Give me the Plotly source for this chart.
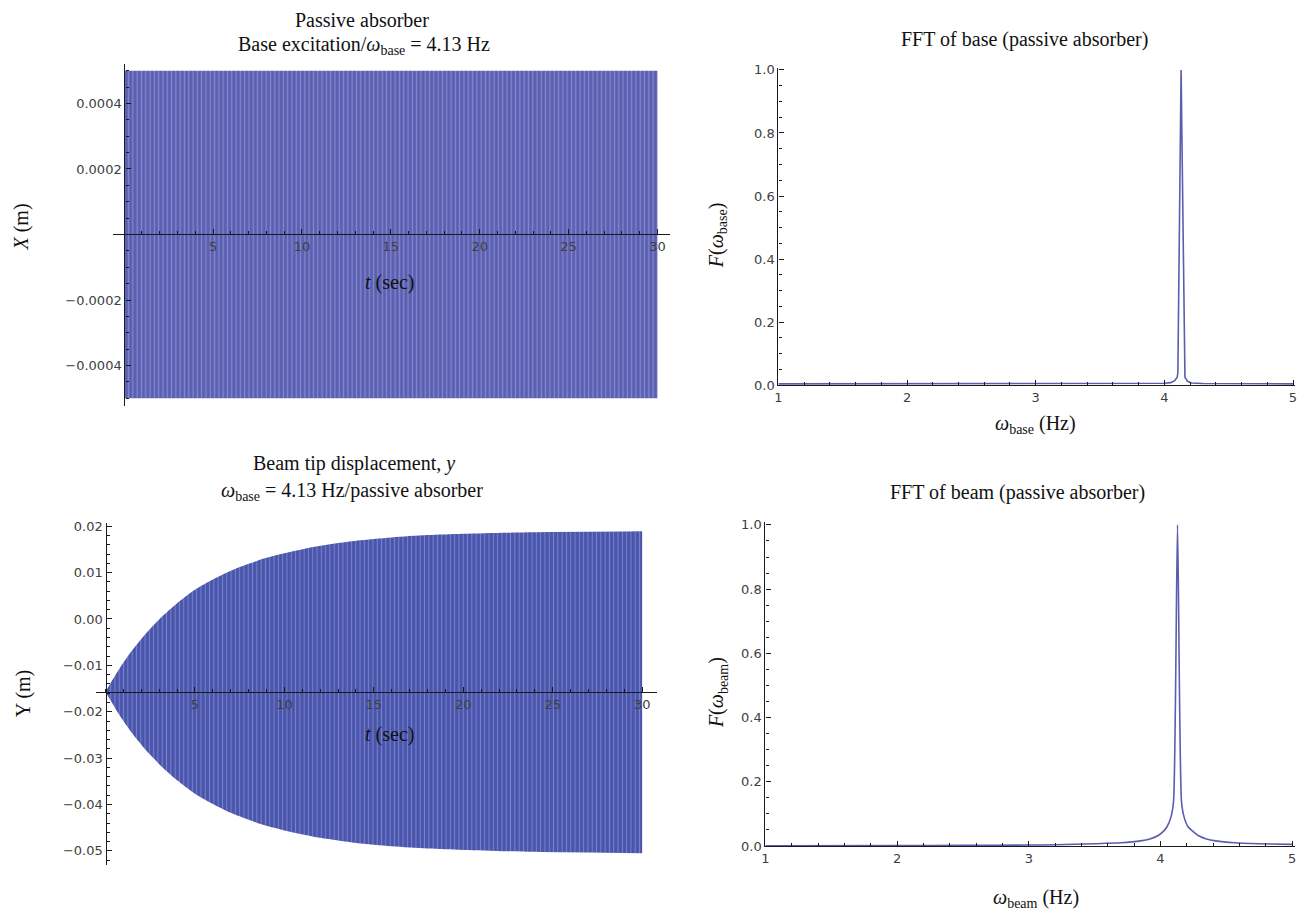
import plotly.graph_objects as go

W, H = 1311, 921

# ---------------- data ----------------
# Top-left: base excitation, envelope of the 4.13 Hz oscillation
base_t = [0.0, 30.0]
base_upper = [0.0005, 0.0005]
base_lower = [-0.0005, -0.0005]

# Bottom-left: beam tip displacement envelope
beam_t = [0.0, 0.3, 0.6, 1.0, 1.5, 2.0, 2.5, 3.0, 3.5, 4.0, 5.0, 6.0, 7.0, 8.0,
          9.0, 10.0, 12.0, 14.0, 16.0, 18.0, 20.0, 24.0, 30.0]
beam_upper = [-0.0157, -0.0137, -0.0118, -0.0094, -0.0067, -0.0043, -0.0021,
              -0.0001, 0.0017, 0.0034, 0.0063, 0.0085, 0.0104, 0.0119, 0.0132,
              0.0142, 0.0158, 0.0169, 0.0176, 0.0181, 0.0184, 0.0187, 0.0189]
beam_lower = [-0.0157, -0.0177, -0.0196, -0.0220, -0.0247, -0.0271, -0.0293,
              -0.0313, -0.0331, -0.0348, -0.0377, -0.0399, -0.0418, -0.0433,
              -0.0446, -0.0456, -0.0472, -0.0483, -0.0490, -0.0495, -0.0498,
              -0.0502, -0.0505]

# Top-right: FFT of base
fft_base_f = [1.0, 2.0, 3.0, 3.5, 3.9, 4.0, 4.05, 4.08, 4.10, 4.105, 4.13,
              4.155, 4.16, 4.18, 4.21, 4.3, 4.6, 5.0]
fft_base_a = [0.004, 0.004, 0.004, 0.004, 0.005, 0.006, 0.008, 0.014, 0.025,
              0.04, 1.0, 0.04, 0.025, 0.012, 0.007, 0.005, 0.004, 0.004]

# Bottom-right: FFT of beam
fft_beam_f = [1.0, 2.0, 2.5, 3.0, 3.2, 3.5, 3.7, 3.85, 3.92, 3.98, 4.02, 4.05,
              4.08, 4.10, 4.13, 4.16, 4.18, 4.21, 4.25, 4.29, 4.35, 4.42, 4.56,
              4.75, 5.0]
fft_beam_a = [0.001, 0.0015, 0.002, 0.003, 0.004, 0.007, 0.010, 0.016, 0.022,
              0.032, 0.045, 0.06, 0.09, 0.14, 1.0, 0.14, 0.09, 0.06, 0.045,
              0.032, 0.022, 0.016, 0.010, 0.007, 0.005]

x_ticks_t = [5, 10, 15, 20, 25, 30]
y_ticks_base = [0.0004, 0.0002, -0.0002, -0.0004]
y_text_base = ["0.0004", "0.0002", "\u22120.0002", "\u22120.0004"]
y_ticks_beam = [0.02, 0.01, 0.0, -0.01, -0.02, -0.03, -0.04, -0.05]
y_text_beam = ["0.02", "0.01", "0.00", "\u22120.01", "\u22120.02", "\u22120.03",
               "\u22120.04", "\u22120.05"]
fft_x_ticks = [1, 2, 3, 4, 5]
fft_y_ticks = [0.0, 0.2, 0.4, 0.6, 0.8, 1.0]
fft_y_text = ["0.0", "0.2", "0.4", "0.6", "0.8", "1.0"]


def fx(px):
    return px / W


def fy(py):
    return 1 - py / H


AX = "#1a1a1a"
TICKFONT = dict(family="DejaVu Sans", size=13, color="#404040")
SERIF = "Liberation Serif"
LINE = "#5a5ead"


def axis_common(**kw):
    d = dict(showgrid=False, zeroline=False, showline=True, linecolor=AX,
             linewidth=1.3, ticks="inside", ticklen=5, tickwidth=1.2,
             tickcolor=AX, tickfont=TICKFONT, fixedrange=True)
    d.update(kw)
    return d


fig = go.Figure()

# ---- top-left band ----
fig.add_trace(go.Scatter(x=base_t, y=base_lower, mode="lines",
                         line=dict(width=0, color="#5a5fb2"),
                         xaxis="x", yaxis="y", showlegend=False))
fig.add_trace(go.Scatter(x=base_t, y=base_upper, mode="lines",
                         line=dict(width=0, color="#5a5fb2"), fill="tonexty",
                         fillcolor="#5a5fb2",
                         fillpattern=dict(shape="|", bgcolor="#5a5fb2",
                                          fgcolor="#aeb1e2", size=4.3,
                                          solidity=0.3),
                         xaxis="x", yaxis="y", showlegend=False))

# ---- bottom-left band ----
fig.add_trace(go.Scatter(x=beam_t, y=beam_lower, mode="lines",
                         line=dict(width=0, color="#4955ad", shape="spline",
                                   smoothing=0.8),
                         xaxis="x3", yaxis="y3", showlegend=False))
fig.add_trace(go.Scatter(x=beam_t, y=beam_upper, mode="lines",
                         line=dict(width=0, color="#4955ad", shape="spline",
                                   smoothing=0.8),
                         fill="tonexty", fillcolor="#4955ad",
                         fillpattern=dict(shape="|", bgcolor="#4955ad",
                                          fgcolor="#a9b0e0", size=4.3,
                                          solidity=0.25),
                         xaxis="x3", yaxis="y3", showlegend=False))

# ---- FFT curves ----
fig.add_trace(go.Scatter(x=fft_base_f, y=fft_base_a, mode="lines",
                         line=dict(width=1.6, color=LINE),
                         xaxis="x2", yaxis="y2", showlegend=False))
fig.add_trace(go.Scatter(x=fft_beam_f, y=fft_beam_a, mode="lines",
                         line=dict(width=1.6, color=LINE, shape="spline",
                                   smoothing=0.6),
                         xaxis="x4", yaxis="y4", showlegend=False))

layout = dict(
    width=W, height=H, margin=dict(l=0, r=0, t=0, b=0),
    paper_bgcolor="white", plot_bgcolor="rgba(0,0,0,0)",
    showlegend=False,
    # top-left
    xaxis=axis_common(domain=[fx(110), fx(669)], range=[-0.6, 30.7],
                      anchor="free", position=fy(232),
                      tickmode="array", tickvals=x_ticks_t,
                      minor=dict(dtick=1, tick0=0, ticklen=3, tickcolor=AX,
                                 ticks="inside")),
    yaxis=axis_common(domain=[fy(406), fy(59)], range=[-0.000523, 0.00052],
                      anchor="free", position=fx(121),
                      tickmode="array", tickvals=y_ticks_base,
                      ticktext=y_text_base,
                      minor=dict(dtick=0.00005, tick0=0, ticklen=3,
                                 tickcolor=AX, ticks="inside")),
    # top-right
    xaxis2=axis_common(domain=[fx(778), fx(1297)], range=[1, 5.016],
                       anchor="y2", tickmode="array", tickvals=fft_x_ticks,
                       minor=dict(dtick=0.2, tick0=1, ticklen=3, tickcolor=AX,
                                  ticks="inside")),
    yaxis2=axis_common(domain=[fy(385), fy(63)], range=[0, 1.006],
                       anchor="x2", tickmode="array", tickvals=fft_y_ticks,
                       ticktext=fft_y_text,
                       minor=dict(dtick=0.05, tick0=0, ticklen=3, tickcolor=AX,
                                  ticks="inside")),
    # bottom-left
    xaxis3=axis_common(domain=[fx(92), fx(656)], range=[-0.556, 30.83],
                       anchor="free", position=fy(696.4),
                       tickmode="array", tickvals=x_ticks_t,
                       minor=dict(dtick=1, tick0=0, ticklen=3, tickcolor=AX,
                                  ticks="inside")),
    yaxis3=axis_common(domain=[fy(872), fy(525)], range=[-0.053, 0.0207],
                       anchor="free", position=fx(102),
                       tickmode="array", tickvals=y_ticks_beam,
                       ticktext=y_text_beam,
                       minor=dict(dtick=0.002, tick0=0, ticklen=3,
                                  tickcolor=AX, ticks="inside")),
    # bottom-right
    xaxis4=axis_common(domain=[fx(765), fx(1297)], range=[1, 5.023],
                       anchor="y4", tickmode="array", tickvals=fft_x_ticks,
                       minor=dict(dtick=0.2, tick0=1, ticklen=3, tickcolor=AX,
                                  ticks="inside")),
    yaxis4=axis_common(domain=[fy(853), fy(524)], range=[0, 1.009],
                       anchor="x4", tickmode="array", tickvals=fft_y_ticks,
                       ticktext=fft_y_text,
                       minor=dict(dtick=0.05, tick0=0, ticklen=3, tickcolor=AX,
                                  ticks="inside")),
)
fig.update_layout(**layout)


def text(s, px, py, size=20, angle=0):
    fig.add_annotation(text=s, x=fx(px), y=fy(py), xref="paper", yref="paper",
                       showarrow=False, xanchor="center", yanchor="middle",
                       textangle=angle,
                       font=dict(family=SERIF, size=size, color="#111111"))


# titles
text("Passive absorber", 360, 14)
text("Base excitation/<i>\u03c9</i><sub>base</sub> = 4.13 Hz", 362, 40)
text("FFT of base (passive absorber)", 1025, 34)
text("Beam tip displacement, <i>y</i>", 352, 465)
text("<i>\u03c9</i><sub>base</sub> = 4.13 Hz/passive absorber", 350, 493)
text("FFT of beam (passive absorber)", 1018, 494)

# axis labels
text("<i>t</i> (sec)", 387, 281)
text("<i>t</i> (sec)", 387, 740)
text("<i>X</i> (m)", 18, 224, angle=-90)
text("Y (m)", 19, 698, angle=-90)
text("<i>\u03c9</i><sub>base</sub> (Hz)", 1036, 425)
text("<i>\u03c9</i><sub>beam</sub> (Hz)", 1037, 906)
text("<i>F</i>(<i>\u03c9</i><sub>base</sub>)", 717, 233, angle=-90)
text("<i>F</i>(<i>\u03c9</i><sub>beam</sub>)", 717, 697, angle=-90)

fig.write_html("out.html")
